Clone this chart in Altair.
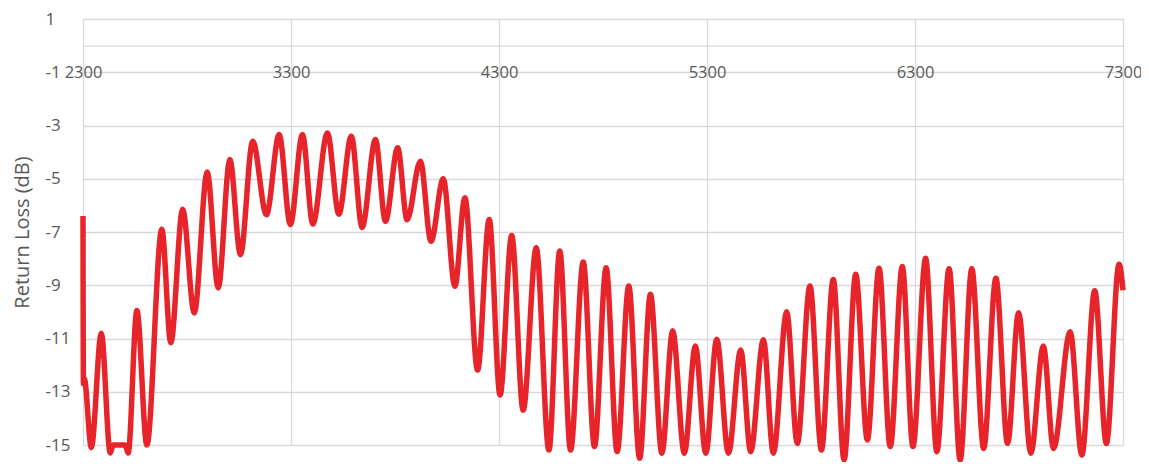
import altair as alt
import pandas as pd

# Frequency (MHz) of the curve's key points (extrema)
freq = [2300, 2302, 2306, 2340, 2388, 2431, 2445, 2503, 2517, 2559, 2607,
        2679, 2722, 2779, 2835, 2897, 2950, 3006, 3057, 3116, 3182,
        3243, 3297, 3355, 3405, 3475, 3530, 3590, 3642, 3706, 3754,
        3813, 3858, 3922, 3973, 4032, 4088, 4136, 4197, 4253, 4305,
        4361, 4416, 4479, 4540, 4592, 4644, 4705, 4759, 4815, 4868,
        4924, 4976, 5028, 5083, 5135, 5191, 5244, 5294, 5347, 5403,
        5462, 5510, 5571, 5619, 5683, 5734, 5795, 5850, 5907, 5959,
        6015, 6071, 6127, 6181, 6239, 6290, 6351, 6405, 6464, 6517,
        6573, 6630, 6689, 6745, 6798, 6857, 6917, 6966, 7046, 7102,
        7164, 7220, 7281, 7300]

# Return loss (dB) at those points
return_loss = [-6.4, -12.7, -12.5, -15.1, -10.8, -15.3, -15.0, -15.0, -15.3, -9.95, -15.0,
               -6.9, -11.16, -6.15, -10.04, -4.75, -9.1, -4.28, -7.85, -3.59, -6.35,
               -3.34, -6.72, -3.34, -6.7, -3.28, -6.33, -3.4, -6.83, -3.53, -6.6,
               -3.84, -6.54, -4.34, -7.35, -5.0, -9.04, -5.71, -12.19, -6.53, -13.12,
               -7.13, -13.69, -7.59, -15.19, -7.71, -15.19, -8.13, -15.06, -8.34, -15.25,
               -9.03, -15.5, -9.34, -15.31, -10.71, -15.31, -11.28, -15.31, -11.03, -15.31,
               -11.43, -15.25, -11.05, -15.31, -10.0, -14.94, -9.03, -15.19, -8.78, -15.56,
               -8.59, -14.81, -8.36, -15.06, -8.3, -15.06, -7.99, -15.25, -8.38, -15.56,
               -8.38, -15.13, -8.74, -14.94, -10.03, -15.31, -11.28, -15.13, -10.75, -15.38,
               -9.21, -14.94, -8.21, -9.19]

x_ticks = [2300, 3300, 4300, 5300, 6300, 7300]
y_ticks = [1, -1, -3, -5, -7, -9, -11, -13, -15]

df = pd.DataFrame({"freq": freq, "rl": return_loss})

PLOT_W = 1040
PLOT_H = 426
FONT = "Open Sans"
GRID = "#D9D9D9"
TXT = "#595959"

x_axis = alt.Axis(
    values=x_ticks, format="d", title=None, orient="bottom",
    offset=-(PLOT_H - PLOT_H / 16.0),
    ticks=False, tickSize=0, labelPadding=PLOT_H / 16.0,
    labelBaseline="middle", labelFont=FONT, labelFontSize=16.5, labelColor=TXT,
    domain=True, domainColor=GRID, domainWidth=1.3,
    grid=True, gridColor=GRID, gridWidth=1.3, labelFlush=False,
)

y_axis = alt.Axis(
    values=y_ticks, title="Return Loss (dB)",
    labelExpr="'' + datum.value",
    ticks=False, tickSize=0, labelPadding=38, labelAlign="left",
    labelFont=FONT, labelFontSize=17, labelColor=TXT,
    domain=False, grid=True, gridColor=GRID, gridWidth=1.3,
    titleFont=FONT, titleFontSize=20, titleFontWeight="normal", titleColor=TXT,
    titleX=-61, titleY=PLOT_H / 2.0, titleAlign="center", titleBaseline="middle",
    titleAngle=270,
)

chart = alt.Chart(df).mark_line(
    color="#E8242B", strokeWidth=5.5, interpolate="monotone", clip=False
).encode(
    x=alt.X("freq:Q", scale=alt.Scale(domain=[2300, 7300], nice=False, zero=False), axis=x_axis),
    y=alt.Y("rl:Q", scale=alt.Scale(domain=[-15, 1], nice=False, zero=False), axis=y_axis),
).properties(
    width=PLOT_W, height=PLOT_H,
    autosize=alt.AutoSizeParams(type="none"),
    padding={"left": 75, "top": 11, "right": 18, "bottom": 17},
).configure_view(stroke=None).configure(background="white")

chart.save("out.html", embed_options={"renderer": "svg", "actions": False})
